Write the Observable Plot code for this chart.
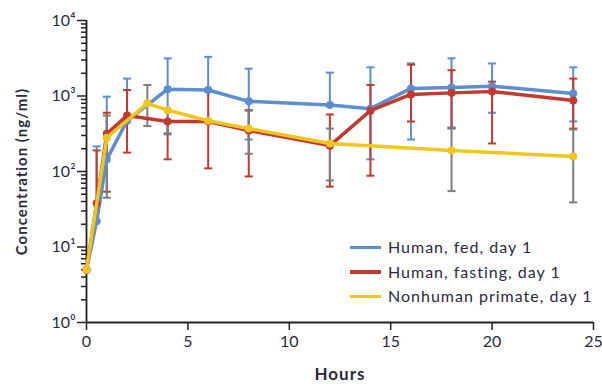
<!DOCTYPE html>
<html><head><meta charset="utf-8">
<script src="https://cdn.jsdelivr.net/npm/d3@7"></script>
<script src="https://cdn.jsdelivr.net/npm/@observablehq/plot@0.6"></script>
<style>
body{margin:0;background:#fff;}
#wrap{position:relative;width:602px;height:384px;font-family:Lato,"Open Sans",sans-serif;}
#legend{position:absolute;left:350px;top:235px;font-size:16px;letter-spacing:1px;color:#2a2a3a;line-height:24.5px;}
#legend div{display:flex;align-items:center;white-space:nowrap;}
#legend span.sw{display:inline-block;width:31px;height:3.5px;margin-right:7px;}
g[aria-label="text"] text{letter-spacing:1px;}
</style></head><body><div id="wrap"></div>
<script>
// ---- data ----
const hoursHuman = [0, 0.5, 1, 2, 4, 6, 8, 12, 14, 16, 18, 20, 24];
const fedValues  = [5, 22, 145, 470, 1230, 1200, 850, 760, 680, 1260, 1300, 1350, 1080];
const fedHigh    = [null, 215, 980, 1700, 3150, 3300, 2300, 2040, 2400, 2700, 3150, 2700, 2400];
const fedLow     = [null, null, null, null, 310, null, 265, null, 145, 265, 370, 600, 460];

const fastValues = [5, 38, 316, 550, 460, 460, 350, 220, 640, 1050, 1100, 1150, 870];
const fastHigh   = [null, 190, 600, 1200, null, 1150, 650, 570, 1400, 2600, 2200, 1550, 1700];
const fastLow    = [null, null, 54, 178, 145, 110, 86, 63, 88, 460, 380, 235, 370];

const hoursPrimate = [0, 1, 3, 4, 6, 8, 12, 18, 24];
const primValues   = [5, 280, 800, 650, 470, 370, 235, 190, 158];
const primHigh     = [null, 550, 1400, null, null, 640, 370, 380, 360];
const primLow      = [null, 45, 400, 320, null, 172, 76, 55, 39];

const seriesNames = ["Human, fed, day 1", "Human, fasting, day 1", "Nonhuman primate, day 1"];
const seriesColors = ["#5b8fd0", "#c23a2e", "#efc51f"];
const errorColors  = ["#5b8fd0", "#c23a2e", "#7d7d7d"];

const xTicks = [0, 5, 10, 15, 20, 25];
const yMajor = [1, 10, 100, 1000, 10000];
const yMinor = [];
for (const p of [1, 10, 100, 1000]) for (let m = 2; m <= 9; m++) yMinor.push(p * m);
const supers = ["\u2070", "\u00b9", "\u00b2", "\u00b3", "\u2074"];

// ---- tables ----
function build(hours, vals, hi, lo, i) {
  return hours.map((t, j) => ({t, v: vals[j], hi: hi[j], lo: lo[j], s: i}));
}
const series = [
  build(hoursHuman, fedValues, fedHigh, fedLow, 0),
  build(hoursHuman, fastValues, fastHigh, fastLow, 1),
  build(hoursPrimate, primValues, primHigh, primLow, 2)
];
const caps = s => s.flatMap(d => [d.hi, d.lo].filter(x => x != null).map(y => ({t: d.t, y, s: d.s})));
const bars = s => s.filter(d => d.hi != null || d.lo != null);

const capSymbol = {draw(ctx, size) { const w = Math.sqrt(size / Math.PI); ctx.moveTo(-w, 0); ctx.lineTo(w, 0); }};

const marks = [];
series.forEach((s, i) => {
  marks.push(Plot.ruleX(bars(s), {x: "t", y1: d => d.lo ?? d.v, y2: d => d.hi ?? d.v, stroke: errorColors[i], strokeWidth: 2}));
  marks.push(Plot.dot(caps(s), {x: "t", y: "y", symbol: capSymbol, r: 4, stroke: errorColors[i], strokeWidth: 2, fill: "none"}));
});
series.forEach((s, i) => {
  marks.push(Plot.line(s, {x: "t", y: "v", stroke: seriesColors[i], strokeWidth: 3.5, strokeLinejoin: "round"}));
  marks.push(Plot.dot(s, {x: "t", y: "v", r: 4, fill: seriesColors[i]}));
});

const plot = Plot.plot({
  width: 602, height: 384,
  marginLeft: 86, marginRight: 9, marginTop: 20, marginBottom: 62,
  style: {fontFamily: "Lato, 'Open Sans', sans-serif", fontSize: "16px", color: "#2a2a3a", background: "#fff"},
  x: {domain: [0, 25]},
  y: {type: "log", domain: [1, 10000]},
  marks: [
    Plot.axisY({ticks: yMinor, tickFormat: () => "", tickSize: 5, strokeWidth: 1.5, stroke: "#222", label: null}),
    Plot.axisY({ticks: yMajor, tickFormat: d => "10" + supers[Math.round(Math.log10(d))], tickSize: 9, tickPadding: 2, strokeWidth: 1.5, stroke: "#222", fontSize: 16, label: null}),
    Plot.axisX({ticks: xTicks, tickSize: 8, tickPadding: 5, strokeWidth: 1.5, stroke: "#222", fontSize: 16, label: null}),
    Plot.ruleX([0], {stroke: "#222", strokeWidth: 1.8}),
    Plot.ruleY([1], {stroke: "#222", strokeWidth: 1.8}),
    ...marks,
    Plot.text(["Concentration (ng/ml)"], {frameAnchor: "left", textAnchor: "middle", rotate: -90, dx: -64, fontWeight: "bold", fontSize: 15, fill: "#2a2a3a"}),
    Plot.text(["Hours"], {frameAnchor: "bottom", textAnchor: "middle", dy: 57, fontWeight: "bold", fontSize: 17, fill: "#2a2a3a"})
  ]
});
const wrap = document.getElementById("wrap");
wrap.appendChild(plot);
const legend = document.createElement("div");
legend.id = "legend";
seriesNames.forEach((n, i) => {
  const row = document.createElement("div");
  row.innerHTML = `<span class="sw" style="background:${seriesColors[i]}"></span>${n}`;
  legend.appendChild(row);
});
wrap.appendChild(legend);
</script></body></html>
